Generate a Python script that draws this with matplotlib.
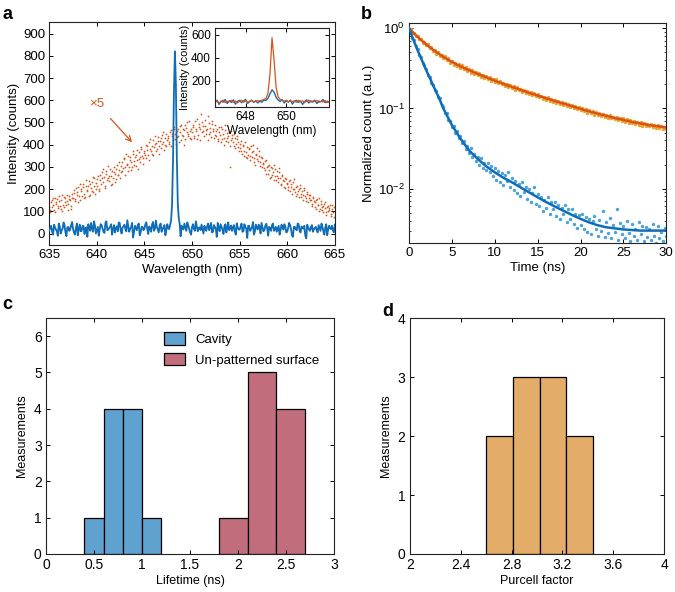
"""
Cavity emission figure: spectra (a), decay traces (b), lifetime and Purcell histograms (c, d)
"""
import numpy as np
import matplotlib
matplotlib.use("Agg")
import matplotlib.pyplot as plt
from matplotlib.ticker import LogLocator, NullFormatter

plt.rcParams['font.family'] = ['Liberation Sans', 'DejaVu Sans']
plt.rcParams['mathtext.fontset'] = 'custom'
plt.rcParams['mathtext.rm'] = 'Liberation Sans'
plt.rcParams['axes.linewidth'] = 0.8

BLUE = '#0f6db8'
RED = '#d95319'
DOT_BLUE = '#4aa3db'
DOT_ORANGE = '#f0a024'

# ─── (a) spectra ─────────────────────────────────
# blue (cavity) baseline, two interleaved grids: 635.0 + 0.2k and 635.1 + 0.2k
blue_base = [
    15, 35, -5, 28, 10, 45, 0, 22, 38, -12, 30, 18, 52, 5, 25, -8, 40, 12, 33, 20,
    -15, 28, 48, 8, 35, 15, -10, 42, 22, 3, 55, 18, 30, -5, 38, 25, 10, 47, 0, 32,
    20, 60, 8, 28, -18, 35, 15, 45, 5, 30, 22, 50, -2, 25, 40, 12, 58, 18, 35, 8,
    28, -8, 42, 20, 10, 36, 52, 15, 30, -12, 25, 45, 12, 38, 5, 30, 20, 55, 10, 28,
    40, 0, 22, 35, 15, 48, 8, 30, -15, 25, 42, 18, 32, 5, 50, 22, 12, 38, -5, 28,
    18, 45, 10, 30, -20, 35, 20, 52, 8, 26, 40, 0, 30, 15, 44, -10, 25, 38, 12, 30,
    22, -5, 40, 18, 32, 8, 48, 20, -15, 30, 15, 42, 5, 25, 35, -22, 28, 12, 38, 18,
    30, 5, 25, 45, 10, 28, -8, 35, 20, 15, 40,
]
blue_base_mid = [
    25, 8, 40, 18, -10, 32, 15, 50, 5, 28, 12, 38, 20, -5, 45, 22, 10, 35, -2, 28,
    42, 12, 22, 55, 0, 30, 18, 38, 8, 48, 15, 25, 42, 20, 5, 32, 50, 15, 28, 40,
    10, 35, 22, 48, 5, 25, 38, -8, 30, 15, 42, 20, 32, 8, 52, 22, 30, 5, 45, 20,
    38, 15, 25, 48, 8, 22, 30, 40, 5, 35, 18, 28, 50, 20, -5, 42, 12, 32, 25, 15,
    20, 35, 12, 45, 28, 5, 38, 20, 48, 10, 30, -2, 42, 25, 15, 36, 28, 8, 46, 18,
    30, 8, 42, 22, 35, 12, 28, -5, 40, 18, 30, 48, 10, 35, 22, 30, 12, 45, 20, 8,
    35, 15, 28, 42, 5, 25, 38, -8, 30, 20, 45, 12, 32, 22, -10, 40, 18, 30, 8, 25,
    15, 38, 12, 30, -5, 42, 18, 25, 35, 5,
]
peak_wl = [647.7, 647.8, 647.9, 648.0, 648.1, 648.2, 648.3, 648.4, 648.5, 648.6, 648.7]
peak_counts = [40, 60, 130, 330, 640, 820, 680, 350, 140, 70, 45]

# orange (un-patterned, x5), grids 635.0 + 0.125k and 635.0625 + 0.125k
orange_x5 = [
    120, 95, 150, 130, 108, 160, 140, 115, 170, 125, 150, 100, 165, 140, 128, 175, 135, 155, 112, 180,
    160, 195, 145, 185, 210, 170, 150, 200, 225, 180, 165, 215, 190, 235, 175, 205, 230, 185, 250, 200,
    215, 260, 190, 240, 275, 230, 255, 205, 280, 250, 235, 290, 260, 225, 300, 270, 245, 310, 265, 285,
    275, 320, 295, 340, 265, 310, 350, 300, 330, 285, 360, 325, 345, 305, 375, 335, 320, 390, 350, 340,
    370, 340, 395, 355, 410, 380, 360, 420, 390, 405, 370, 435, 395, 415, 385, 445, 410, 400, 450, 420,
    430, 405, 465, 440, 420, 480, 450, 435, 470, 410, 455, 490, 440, 465, 425, 475, 500, 450, 430, 470,
    455, 490, 430, 470, 515, 445, 480, 420, 500, 460, 440, 485, 465, 530, 450, 475, 435, 495, 460, 445,
    440, 470, 415, 455, 480, 425, 450, 400, 465, 430, 410, 455, 300, 420, 445, 395, 430, 405, 440, 390,
    385, 415, 360, 400, 370, 345, 390, 355, 380, 330, 365, 400, 340, 310, 360, 335, 370, 320, 345, 300,
    315, 285, 330, 300, 270, 310, 255, 295, 275, 240, 290, 260, 230, 275, 250, 220, 265, 235, 205, 245,
    225, 195, 240, 210, 180, 230, 200, 170, 215, 190, 165, 205, 180, 150, 195, 170, 145, 185, 160, 175,
    150, 125, 165, 140, 110, 155, 130, 100, 145, 120, 95, 135, 115, 85, 125, 105, 130, 90, 110, 75,
]
orange_x5_mid = [
    105, 140, 118, 162, 98, 135, 155, 122, 145, 110, 172, 130, 118, 158, 145, 105, 168, 150, 125, 160,
    182, 155, 205, 172, 140, 225, 190, 168, 210, 158, 240, 195, 215, 170, 222, 190, 255, 212, 180, 228,
    245, 200, 265, 222, 250, 290, 215, 268, 240, 305, 258, 220, 282, 248, 275, 230, 290, 262, 320, 250,
    305, 282, 335, 298, 360, 315, 280, 345, 320, 300, 372, 310, 355, 330, 290, 365, 345, 380, 315, 362,
    352, 400, 375, 330, 425, 372, 395, 352, 440, 408, 380, 415, 360, 430, 405, 455, 375, 428, 392, 440,
    412, 455, 392, 448, 470, 425, 402, 460, 440, 485, 420, 445, 470, 400, 488, 455, 438, 505, 462, 425,
    478, 440, 505, 462, 425, 495, 470, 540, 455, 482, 510, 448, 472, 420, 498, 455, 505, 470, 432, 490,
    460, 425, 478, 445, 410, 470, 432, 490, 418, 452, 440, 395, 462, 428, 410, 448, 385, 425, 410, 372,
    405, 372, 395, 350, 410, 365, 340, 385, 350, 395, 345, 372, 320, 355, 385, 328, 350, 305, 342, 318,
    295, 325, 270, 305, 285, 250, 300, 265, 310, 258, 240, 282, 250, 295, 225, 258, 242, 210, 250, 228,
    210, 238, 190, 222, 200, 245, 185, 210, 178, 200, 220, 165, 190, 172, 205, 158, 180, 140, 172, 152,
    135, 160, 145, 118, 150, 128, 160, 112, 135, 108, 125, 140, 95, 120, 102, 115, 80, 128, 98, 118,
]

# inset (high resolution scan), grid 646.5 + 0.1k
inset_orange = [
    12, 25, 5, 18, 30, 8, 20, 15, 28, 10,
    22, 6, 18, 30, 12, 24, 9, 20, 28, 14,
    18, 26, 22, 30, 35, 45, 90, 260, 575, 380,
    140, 60, 35, 28, 20, 30, 15, 25, 18, 22,
    10, 28, 16, 24, 8, 20, 30, 12, 22, 18,
    26, 10, 20, 14, 28, 8, 18,
]
inset_blue = [
    5, 30, -8, 20, 12, 35, 0, 25, 10, 32,
    -5, 18, 28, 8, 22, 35, 2, 15, 30, 10,
    25, 5, 20, 12, 30, 28, 45, 85, 120, 100,
    55, 30, 18, 35, 5, 25, 12, 30, -5, 20,
    28, 10, 22, -8, 18, 32, 5, 24, 12, 30,
    0, 22, 15, 35, 8, 20, 12,
]

# ─── (b) decay traces, time grid 0.2k ns ─────────
decay_orange = [
    0.98, 0.97, 0.88, 0.87, 0.80, 0.80, 0.73, 0.74, 0.66, 0.67,
    0.61, 0.63, 0.56, 0.58, 0.52, 0.54, 0.48, 0.50, 0.45, 0.47,
    0.42, 0.45, 0.40, 0.42, 0.37, 0.39, 0.35, 0.37, 0.34, 0.36,
    0.32, 0.345, 0.31, 0.325, 0.29, 0.31, 0.28, 0.30, 0.27, 0.285,
    0.26, 0.28, 0.25, 0.265, 0.24, 0.255, 0.23, 0.245, 0.22, 0.235,
    0.215, 0.23, 0.205, 0.22, 0.20, 0.21, 0.19, 0.20, 0.185, 0.195,
    0.18, 0.19, 0.172, 0.185, 0.168, 0.176, 0.162, 0.17, 0.155, 0.165,
    0.15, 0.162, 0.147, 0.155, 0.142, 0.15, 0.138, 0.145, 0.133, 0.14,
    0.128, 0.138, 0.125, 0.133, 0.121, 0.128, 0.117, 0.124, 0.113, 0.12,
    0.11, 0.118, 0.107, 0.114, 0.104, 0.111, 0.101, 0.108, 0.098, 0.104,
    0.095, 0.102, 0.093, 0.098, 0.089, 0.095, 0.087, 0.092, 0.084, 0.09,
    0.083, 0.088, 0.081, 0.086, 0.079, 0.084, 0.077, 0.082, 0.075, 0.079,
    0.073, 0.078, 0.071, 0.076, 0.07, 0.075, 0.068, 0.073, 0.066, 0.071,
    0.065, 0.07, 0.064, 0.068, 0.062, 0.067, 0.061, 0.066, 0.06, 0.064,
    0.06, 0.064, 0.058, 0.062, 0.057, 0.062, 0.057, 0.061, 0.056, 0.059,
    0.055,
]
decay_blue = [
    0.97, 0.90, 0.76, 0.72, 0.60, 0.55, 0.46, 0.44, 0.37, 0.35,
    0.31, 0.26, 0.25, 0.205, 0.195, 0.17, 0.165, 0.14, 0.135, 0.11,
    0.105, 0.088, 0.087, 0.072, 0.07, 0.058, 0.061, 0.05, 0.052, 0.043,
    0.045, 0.037, 0.039, 0.031, 0.034, 0.028, 0.032, 0.025, 0.027, 0.022,
    0.025, 0.020, 0.024, 0.018, 0.021, 0.017, 0.021, 0.016, 0.019, 0.0145,
    0.018, 0.013, 0.0165, 0.012, 0.0155, 0.011, 0.015, 0.0125, 0.016, 0.0105,
    0.0135, 0.0095, 0.0125, 0.0088, 0.0115, 0.0082, 0.012, 0.0092, 0.0105, 0.0075,
    0.0098, 0.0068, 0.0088, 0.0105, 0.0065, 0.0085, 0.006, 0.0078, 0.0052, 0.0072,
    0.0058, 0.0078, 0.0048, 0.0068, 0.0055, 0.0068, 0.0045, 0.0062, 0.0042, 0.0058,
    0.0048, 0.0062, 0.0038, 0.0055, 0.0042, 0.0055, 0.0036, 0.0049, 0.0032, 0.0047,
    0.0035, 0.0048, 0.0031, 0.0044, 0.0029, 0.0042, 0.0027, 0.0039, 0.0046, 0.0031,
    0.0026, 0.0041, 0.0030, 0.0052, 0.0025, 0.0038, 0.0028, 0.0043, 0.0024, 0.0035,
    0.0029, 0.0055, 0.0023, 0.0037, 0.0027, 0.0034, 0.0024, 0.0040, 0.0028, 0.0022,
    0.0036, 0.0026, 0.0031, 0.0023, 0.0038, 0.0027, 0.0034, 0.0022, 0.0033, 0.0025,
    0.0031, 0.0023, 0.0036, 0.0026, 0.0021, 0.0034, 0.0024, 0.0029, 0.0022, 0.0032,
    0.0026,
]
fit_t = [0, 0.5, 1, 1.5, 2, 2.5, 3, 3.5, 4, 5, 6, 7, 8, 9, 10, 11, 12, 13, 14, 15,
         16, 17, 18, 19, 20, 21, 22, 23, 24, 25, 26, 27, 28, 29, 30]
fit_orange = [1.0, 0.88, 0.78, 0.70, 0.63, 0.57, 0.52, 0.48, 0.44, 0.38, 0.335, 0.30,
              0.27, 0.245, 0.222, 0.203, 0.186, 0.171, 0.157, 0.145, 0.134, 0.124,
              0.115, 0.107, 0.099, 0.092, 0.086, 0.081, 0.076, 0.072, 0.068, 0.065,
              0.062, 0.060, 0.058]
fit_blue = [1.0, 0.72, 0.53, 0.40, 0.30, 0.23, 0.175, 0.135, 0.10, 0.062, 0.042,
            0.030, 0.0235, 0.019, 0.016, 0.0137, 0.012, 0.0104, 0.009, 0.0078,
            0.0068, 0.006, 0.0053, 0.0047, 0.0042, 0.0038, 0.0035, 0.0033, 0.0032,
            0.0031, 0.00305, 0.0030, 0.0030, 0.0030, 0.0030]

# ─── (c, d) histograms ───────────────────────────
cavity_edges = [0.4, 0.6, 0.8, 1.0, 1.2]
cavity_counts = [1, 4, 4, 1]
surface_edges = [1.8, 2.1, 2.4, 2.7]
surface_counts = [1, 5, 4]
purcell_edges = [2.603, 2.813, 3.022, 3.232, 3.442]
purcell_counts = [2, 3, 3, 2]


def style(ax, size=9.5):
    ax.tick_params(direction='in', top=True, right=True, length=3, width=0.7,
                   labelsize=size, pad=3)
    ax.tick_params(which='minor', direction='in', top=True, right=True, length=1.6, width=0.5)
    for s in ax.spines.values():
        s.set_color('#222222')


fig = plt.figure(figsize=(6.75, 5.92), dpi=100)

# --- a ---
ax = fig.add_axes([0.073, 0.586, 0.423, 0.376])
wl_a = 635.0 + 0.2 * np.arange(len(blue_base))
wl_b = 635.1 + 0.2 * np.arange(len(blue_base_mid))
wl_all = np.concatenate([wl_a, wl_b])
cnt_all = np.concatenate([blue_base, blue_base_mid])
keep = (wl_all < 647.65) | (wl_all > 648.75)
wl_blue = np.concatenate([wl_all[keep], peak_wl])
cnt_blue = np.concatenate([cnt_all[keep], peak_counts])
order = np.argsort(wl_blue)
wl_o1 = 635.0 + 0.125 * np.arange(len(orange_x5))
wl_o2 = 635.0625 + 0.125 * np.arange(len(orange_x5_mid))
ax.scatter(wl_o1, orange_x5, s=1.6, color=RED, linewidths=0, zorder=2)
ax.scatter(wl_o2, orange_x5_mid, s=1.6, color=RED, linewidths=0, zorder=2)
ax.plot(wl_blue[order], cnt_blue[order], color=BLUE, lw=1.3, zorder=3)
ax.set_xlim(635, 665)
ax.set_ylim(-52, 950)
ax.set_xticks(np.arange(635, 666, 5))
ax.set_yticks(np.arange(0, 901, 100))
ax.set_xlabel('Wavelength (nm)', fontsize=9.5, labelpad=2)
ax.set_ylabel('Intensity (counts)', fontsize=9.5, labelpad=2)
style(ax)
ax.annotate('×5', xy=(643.7, 411), xytext=(640.0, 585), color=RED, fontsize=9.5,
            ha='center', va='center',
            arrowprops=dict(arrowstyle='->', color=RED, lw=0.9, shrinkA=6, shrinkB=0))
fig.text(0.003, 0.975, 'a', fontsize=13, fontweight='bold', va='center')

# inset
axi = fig.add_axes([0.3185, 0.8193, 0.169, 0.1334])
wl_in = 646.5 + 0.1 * np.arange(len(inset_orange))
axi.plot(wl_in, inset_blue, color=BLUE, lw=1.0)
axi.plot(wl_in, inset_orange, color=RED, lw=0.9)
axi.set_xlim(646.5, 652.1)
axi.set_ylim(-30, 660)
axi.set_xticks([648, 650])
axi.set_yticks([200, 400, 600])
axi.set_xlabel('Wavelength (nm)', fontsize=8.5, labelpad=1)
axi.set_ylabel('Intensity (counts)', fontsize=8, labelpad=1)
style(axi, 8.5)

# --- b ---
ax = fig.add_axes([0.606, 0.5895, 0.381, 0.372])
t_pts = 0.2 * np.arange(len(decay_orange))
ax.scatter(t_pts, decay_orange, s=6, color=DOT_ORANGE, linewidths=0, zorder=2)
ax.scatter(t_pts, decay_blue, s=6, color=DOT_BLUE, linewidths=0, zorder=2)
ax.plot(fit_t, fit_orange, color=RED, lw=1.8, zorder=3)
ax.plot(fit_t, fit_blue, color=BLUE, lw=1.8, zorder=3)
ax.set_yscale('log')
ax.set_xlim(0, 30)
ax.set_ylim(0.0021, 1.17)
ax.set_xticks(np.arange(0, 31, 5))
ax.set_yticks([1e-2, 1e-1, 1])
ax.yaxis.set_minor_locator(LogLocator(base=10, subs=np.arange(2, 10)))
ax.yaxis.set_minor_formatter(NullFormatter())
ax.set_xlabel('Time (ns)', fontsize=9.5, labelpad=2)
ax.set_ylabel('Normalized count (a.u.)', fontsize=9.5, labelpad=2)
style(ax)
fig.text(0.535, 0.975, 'b', fontsize=13, fontweight='bold', va='center')

# --- c ---
ax = fig.add_axes([0.068, 0.0642, 0.427, 0.3986])
ax.bar(cavity_edges[:-1], cavity_counts, width=np.diff(cavity_edges), align='edge',
       color='#5fa2cf', edgecolor='black', linewidth=0.9, label='Cavity')
ax.bar(surface_edges[:-1], surface_counts, width=np.diff(surface_edges), align='edge',
       color='#c26d7c', edgecolor='black', linewidth=0.9, label='Un-patterned surface')
ax.set_xlim(0, 3)
ax.set_ylim(0, 6.5)
ax.set_xticks([0, 0.5, 1, 1.5, 2, 2.5, 3])
ax.set_xticklabels(['0', '0.5', '1', '1.5', '2', '2.5', '3'])
ax.set_yticks(range(0, 7))
ax.set_xlabel('Lifetime (ns)', fontsize=9, labelpad=2)
ax.set_ylabel('Measurements', fontsize=9, labelpad=4)
style(ax, 10)
ax.legend(loc='upper right', frameon=False, fontsize=9.5, handlelength=1.6,
          handleheight=1.1, borderaxespad=0.6, bbox_to_anchor=(0.995, 0.995))
fig.text(0.003, 0.485, 'c', fontsize=13, fontweight='bold', va='center')

# --- d ---
ax = fig.add_axes([0.607, 0.0642, 0.377, 0.3986])
ax.bar(purcell_edges[:-1], purcell_counts, width=np.diff(purcell_edges), align='edge',
       color='#e3ac68', edgecolor='black', linewidth=0.9)
ax.set_xlim(2, 4)
ax.set_ylim(0, 4)
ax.set_xticks([2, 2.4, 2.8, 3.2, 3.6, 4])
ax.set_xticklabels(['2', '2.4', '2.8', '3.2', '3.6', '4'])
ax.set_yticks(range(0, 5))
ax.set_xlabel('Purcell factor', fontsize=9, labelpad=2)
ax.set_ylabel('Measurements', fontsize=9, labelpad=4)
style(ax, 10)
fig.text(0.566, 0.473, 'd', fontsize=13, fontweight='bold', va='center')

fig.savefig('out.png', dpi=100, facecolor='white')
